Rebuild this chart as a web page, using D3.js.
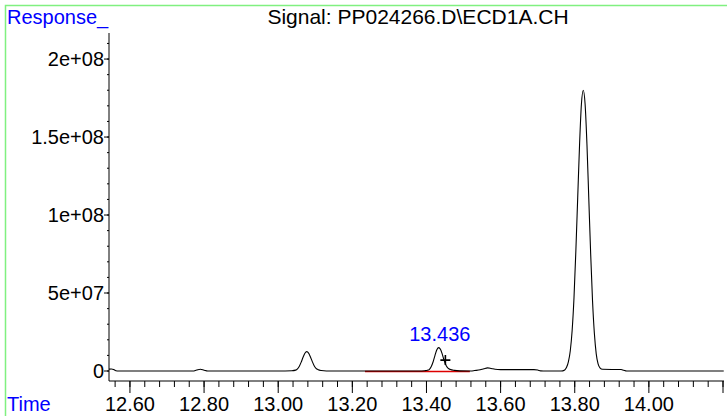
<!DOCTYPE html>
<html>
<head>
<meta charset="utf-8">
<script src="https://cdn.jsdelivr.net/npm/d3@7"></script>
<style>
  body { margin: 0; background: #fff; }
  svg { display: block; font-family: Arial, "Liberation Sans", sans-serif; }
</style>
</head>
<body>
<div id="chart"></div>
<script>
// retention time (min) and detector response
const times = [
  12.5435, 12.550, 12.556, 12.562, 12.570, 12.700, 12.770, 12.780, 12.790, 12.800, 12.810,
  13.000, 13.037, 13.047, 13.052, 13.057, 13.062, 13.067, 13.072, 13.077, 13.082, 13.087,
  13.092, 13.097, 13.102, 13.108, 13.116, 13.130,
  13.380, 13.395, 13.403, 13.408, 13.413, 13.418, 13.423, 13.428, 13.433, 13.438, 13.443,
  13.448, 13.453, 13.458, 13.465, 13.475, 13.490, 13.520,
  13.530, 13.545, 13.555, 13.565, 13.575, 13.585, 13.600, 13.650, 13.690, 13.700, 13.708, 13.715,
  13.763, 13.773, 13.778, 13.783, 13.788, 13.793, 13.798, 13.803, 13.808, 13.813, 13.818,
  13.823, 13.828, 13.833, 13.838, 13.843, 13.848, 13.853, 13.858, 13.863, 13.868, 13.875,
  13.900, 13.925, 13.932, 13.940, 14.202
]
const responses = [
  1.2e6, 1.3e6, 1.0e6, 2e5, 0, 0, 0, 6e5, 1.1e6, 5e5, 0,
  0, 2e5, 5.5e5, 1.4e6, 3.1e6, 5.7e6, 8.8e6, 1.14e7, 1.24e7, 1.15e7, 9.0e6,
  6.0e6, 3.4e6, 1.7e6, 8e5, 3e5, 0,
  0, 2e5, 5e5, 1.1e6, 2.9e6, 5.9e6, 1.0e7, 1.36e7, 1.5e7, 1.38e7, 1.05e7,
  6.5e6, 3.5e6, 1.8e6, 9e5, 4e5, 1e5, 0,
  3e5, 8e5, 1.5e6, 2.0e6, 1.6e6, 1.1e6, 9e5, 9e5, 9e5, 6e5, 1e5, 0,
  0, 7e5, 2.4e6, 6e6, 1.3e7, 2.6e7, 4.7e7, 7.7e7, 1.11e8, 1.45e8, 1.71e8,
  1.80e8, 1.71e8, 1.45e8, 1.10e8, 7.5e7, 4.5e7, 2.4e7, 1.1e7, 4.5e6, 2e6, 1.1e6,
  1e6, 1e6, 5e5, 0, 0
]

const xMajor = [12.6, 12.8, 13.0, 13.2, 13.4, 13.6, 13.8, 14.0, 14.2]
const xLabels = ["12.60", "12.80", "13.00", "13.20", "13.40", "13.60", "13.80", "14.00", ""]
const yMajor = [0, 5e7, 1e8, 1.5e8, 2e8]
const yLabels = ["0", "5e+07", "1e+08", "1.5e+08", "2e+08"]

// integrated peak and its baseline
const peakTime = 13.436
const peakLabel = "13.436"
const markTime = 13.451
const markValue = 7e6
const baseStart = 13.234
const baseEnd = 13.517

const width = 727, height = 416
const svg = d3.select("#chart").append("svg")
  .attr("width", width).attr("height", height)

svg.append("rect").attr("width", width).attr("height", height).attr("fill", "#fff")

// light green frame, runs off the right and bottom edges
svg.append("rect")
  .attr("x", 5.5).attr("y", 5.5)
  .attr("width", width + 10).attr("height", height + 10)
  .attr("fill", "none").attr("stroke", "#80f080").attr("stroke-width", 1.5)

const x = d3.scaleLinear().domain([12.5435, 14.2]).range([109, 723])
const y = d3.scaleLinear().domain([-6.41e6, 2.167e8]).range([381, 33])

// x axis
const xMinor = d3.range(0, 42).map(i => 12.56 + i * 0.04).filter(t => t <= 14.201)
const xAxisG = svg.append("g").attr("transform", "translate(0,381)")
xAxisG.append("line").attr("x1", 109).attr("x2", 724).attr("stroke", "#000")
xAxisG.selectAll(".minor").data(xMinor).join("line")
  .attr("x1", d => x(d)).attr("x2", d => x(d))
  .attr("y1", 0).attr("y2", 6).attr("stroke", "#000")
xAxisG.selectAll(".major").data(xMajor).join("line")
  .attr("x1", d => x(d)).attr("x2", d => x(d))
  .attr("y1", 0).attr("y2", 12).attr("stroke", "#000")
xAxisG.selectAll("text").data(xMajor).join("text")
  .attr("x", d => x(d)).attr("y", 30)
  .attr("text-anchor", "middle").attr("font-size", 20)
  .text((d, i) => xLabels[i])

// y axis
const yMinor = d3.range(0, 22).map(i => i * 1e7)
const yAxisG = svg.append("g").attr("transform", "translate(109,0)")
yAxisG.append("line").attr("y1", 33).attr("y2", 381).attr("stroke", "#000")
yAxisG.selectAll(".minor").data(yMinor).join("line")
  .attr("y1", d => y(d)).attr("y2", d => y(d))
  .attr("x1", 0).attr("x2", -2).attr("stroke", "#000")
yAxisG.selectAll(".major").data(yMajor).join("line")
  .attr("y1", d => y(d)).attr("y2", d => y(d))
  .attr("x1", 0).attr("x2", -5).attr("stroke", "#000")
yAxisG.selectAll("text").data(yMajor).join("text")
  .attr("x", -5).attr("y", d => y(d)).attr("dy", "0.36em")
  .attr("text-anchor", "end").attr("font-size", 20)
  .text((d, i) => yLabels[i])

// axis titles
svg.append("text").attr("x", 7).attr("y", 24)
  .attr("font-size", 20).attr("fill", "#0000ff").text("Response_")
svg.append("text").attr("x", 7).attr("y", 411)
  .attr("font-size", 20).attr("fill", "#0000ff").text("Time")
svg.append("text").attr("x", 418).attr("y", 24)
  .attr("text-anchor", "middle").attr("font-size", 21)
  .text("Signal: PP024266.D\\ECD1A.CH")

// integration baseline
svg.append("line")
  .attr("x1", x(baseStart)).attr("x2", x(baseEnd))
  .attr("y1", y(0) + 0.5).attr("y2", y(0) + 0.5)
  .attr("stroke", "#dd0000").attr("stroke-width", 1.6)

// the trace
const trace = times.map((t, i) => [t, responses[i]])
const line = d3.line().x(d => x(d[0])).y(d => y(d[1])).curve(d3.curveMonotoneX)
svg.append("path").datum(trace)
  .attr("d", line)
  .attr("fill", "none").attr("stroke", "#000").attr("stroke-width", 1.1)

// peak label and marker
svg.append("text").attr("x", x(peakTime)).attr("y", 341)
  .attr("text-anchor", "middle").attr("font-size", 20).attr("fill", "#0000ff")
  .text(peakLabel)
const mx = x(markTime), my = y(markValue)
svg.append("path")
  .attr("d", `M${mx - 5},${my}H${mx + 5}M${mx},${my - 5}V${my + 5}`)
  .attr("stroke", "#000").attr("stroke-width", 1.6)
</script>
</body>
</html>
